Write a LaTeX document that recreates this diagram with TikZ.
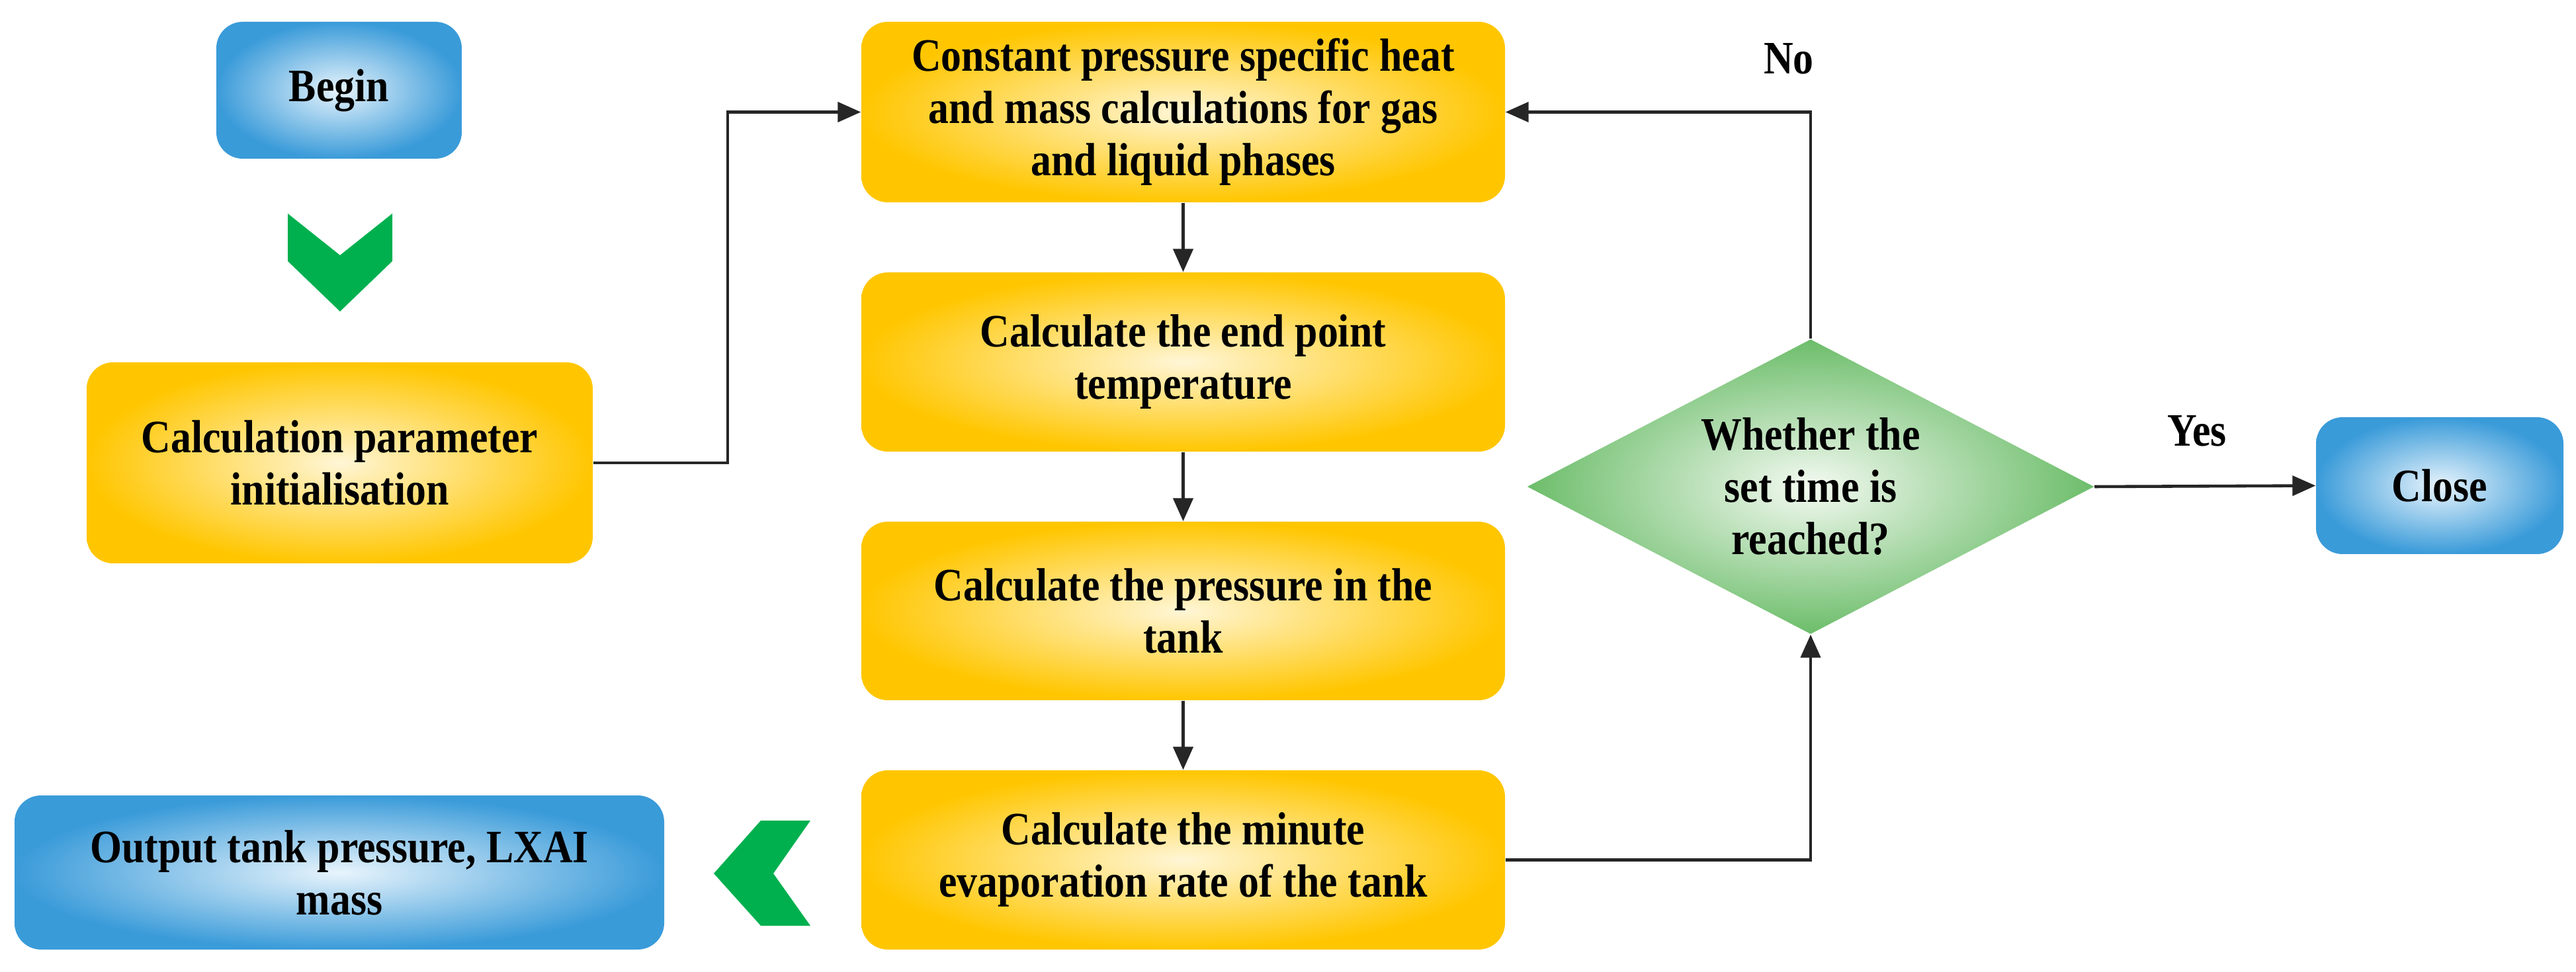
\documentclass[tikz,border=0pt]{standalone}
\usepackage{fontspec}
\setmainfont{Liberation Serif}[FakeStretch=0.88]
\usetikzlibrary{shapes.geometric,arrows.meta}
\definecolor{yel}{HTML}{FFC600}
\definecolor{yelin}{HTML}{FFF6D6}
\definecolor{blu}{HTML}{3A9BD9}
\definecolor{bluin}{HTML}{E8F4FC}
\definecolor{grn}{HTML}{6CBD6A}
\definecolor{grnin}{HTML}{F4FAF2}
\definecolor{chev}{HTML}{00B04F}
\tikzset{
 txt/.style={font=\bfseries\fontsize{20}{22.5}\selectfont, align=center, text=black},
 ybox/.style={txt, rectangle, rounded corners=0.4cm, inner color=yelin, outer color=yel, inner sep=0},
 bbox/.style={txt, rectangle, rounded corners=0.4cm, inner color=bluin, outer color=blu, inner sep=0},
 arr/.style={draw=black!85, line width=1.3pt, -{Triangle[length=0.35cm,width=0.3cm]}},
 ln/.style={draw=black!85, line width=1.3pt}
}
\begin{document}
\begin{tikzpicture}
\useasboundingbox (0,0) rectangle (38.94,14.69);
\node[bbox, minimum width=3.71cm, minimum height=2.07cm] (begin) at (5.125,13.325) {Begin};
\node[ybox, minimum width=7.65cm, minimum height=3.04cm] (p) at (5.135,7.69) {Calculation parameter\\initialisation};
\node[bbox, minimum width=9.82cm, minimum height=2.33cm] (out) at (5.13,1.495) {Output tank pressure, LXAI\\mass};
\node[ybox, minimum width=9.73cm, minimum height=2.73cm] (b1) at (17.885,12.995) {Constant pressure specific heat\\and mass calculations for gas\\and liquid phases};
\node[ybox, minimum width=9.73cm, minimum height=2.71cm] (b2) at (17.885,9.215) {Calculate the end point\\temperature};
\node[ybox, minimum width=9.73cm, minimum height=2.70cm] (b3) at (17.885,5.45) {Calculate the pressure in the\\tank};
\node[ybox, minimum width=9.73cm, minimum height=2.71cm] (b4) at (17.885,1.685) {Calculate the minute\\evaporation rate of the tank};
\node[txt, diamond, minimum width=8.57cm, minimum height=4.46cm, inner sep=0, shape aspect=1.92, inner color=grnin, outer color=grn] (d) at (27.37,7.33) {Whether the\\set time is\\reached?};
\node[bbox, minimum width=3.74cm, minimum height=2.07cm] (close) at (36.88,7.345) {Close};
\node[txt] (no) at (27.04,13.8) {No};
\node[txt] (yes) at (33.21,8.17) {Yes};
\fill[chev] (4.35,11.46) -- (5.14,10.83) -- (5.93,11.46) -- (5.93,10.74) -- (5.14,9.98) -- (4.35,10.74) -- cycle;
\fill[chev] (12.25,2.28) -- (11.69,1.48) -- (12.25,0.69) -- (11.5,0.69) -- (10.79,1.48) -- (11.5,2.28) -- cycle;
\coordinate (k1) at (11.0,0);
\draw[arr] (p.east) -- (p.east -| k1) |- (b1.west);
\draw[arr] (b1.south) -- (b2.north);
\draw[arr] (b2.south) -- (b3.north);
\draw[arr] (b3.south) -- (b4.north);
\draw[arr] (d.north) |- (b1.east);
\draw[arr] (d.east) -- (close.west);
\draw[arr] (b4.east) -| (d.south);
\end{tikzpicture}
\end{document}
